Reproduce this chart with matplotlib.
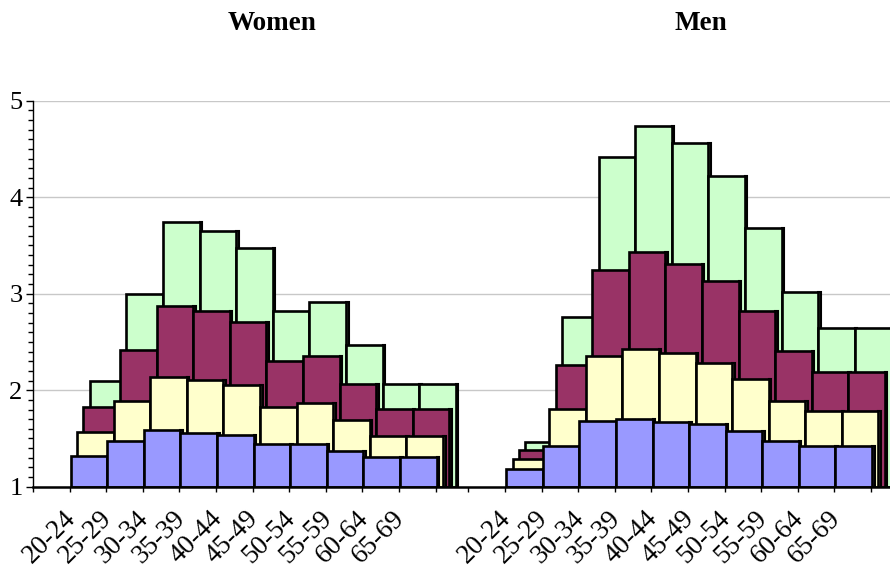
import matplotlib
matplotlib.use("Agg")
import matplotlib.pyplot as plt
from matplotlib.ticker import MultipleLocator

# --- data ---
ages = ['20-24', '25-29', '30-34', '35-39', '40-44',
        '45-49', '50-54', '55-59', '60-64', '65-69']

# front to back: blue, yellow, maroon, green
women_blue = [1.32, 1.47, 1.59, 1.56, 1.54, 1.44, 1.44, 1.37, 1.31, 1.31]
women_yellow = [1.57, 1.89, 2.14, 2.11, 2.05, 1.83, 1.87, 1.69, 1.53, 1.53]
women_maroon = [1.83, 2.42, 2.87, 2.82, 2.71, 2.30, 2.35, 2.06, 1.81, 1.81]
women_green = [2.10, 3.00, 3.74, 3.65, 3.47, 2.82, 2.91, 2.47, 2.06, 2.06]

men_blue = [1.18, 1.42, 1.68, 1.70, 1.67, 1.65, 1.58, 1.47, 1.42, 1.42]
men_yellow = [1.29, 1.81, 2.35, 2.43, 2.39, 2.28, 2.12, 1.89, 1.78, 1.78]
men_maroon = [1.38, 2.26, 3.25, 3.43, 3.31, 3.13, 2.82, 2.41, 2.19, 2.19]
men_green = [1.46, 2.76, 4.42, 4.74, 4.56, 4.22, 3.68, 3.02, 2.64, 2.64]

face_colors = ['#9999ff', '#ffffcc', '#993366', '#ccffcc']
side_colors = ['#4d4d80', '#808066', '#3d1429', '#5c7a5c']

plt.rcParams['font.family'] = ['Liberation Serif', 'DejaVu Serif']

fig = plt.figure(figsize=(8.9, 5.72), dpi=100)
ax = fig.add_axes([33 / 890, 85.3 / 572, 1 - 33 / 890, 386 / 572])

depth = 0.175   # shift of each series further back
side = 0.07     # width of the dark side face


def draw_group(x0, series):
    # draw back series first so the front ones cover them
    for k in range(len(series) - 1, -1, -1):
        vals = series[k]
        shift = 0.03 + k * depth
        for i, v in enumerate(vals):
            left = x0 + 1 + i + shift
            ax.bar(left + 1, v - 1, width=side, bottom=1, align='edge',
                   color=side_colors[k], edgecolor='black', linewidth=1.5)
            ax.bar(left, v - 1, width=1, bottom=1, align='edge',
                   color=face_colors[k], edgecolor='black', linewidth=1.9)


women_x0 = 0.0
men_x0 = 11.9
draw_group(women_x0, [women_blue, women_yellow, women_maroon, women_green])
draw_group(men_x0, [men_blue, men_yellow, men_maroon, men_green])

ax.set_xlim(0, 23.42)
ax.set_ylim(1, 5)

ticks = [women_x0 + k for k in range(12)] + [men_x0 + k for k in range(12)]
ax.set_xticks(ticks)
ax.set_xticklabels([])
ax.tick_params(axis='x', direction='out', length=3.5, width=1, color='black')

ax.set_yticks([1, 2, 3, 4, 5])
ax.yaxis.set_minor_locator(MultipleLocator(0.1))
ax.tick_params(axis='y', which='major', direction='out', length=5, width=1,
               labelsize=19, pad=2.5)
ax.tick_params(axis='y', which='minor', direction='out', length=3.5, width=1)

for x0 in (women_x0, men_x0):
    for i, lab in enumerate(ages):
        ax.text(x0 + 1 + i + 0.3, -0.05, lab, transform=ax.get_xaxis_transform(),
                rotation=45, ha='right', va='top', fontsize=19.5)

ax.grid(axis='y', which='major', color='#c8c8c8', linewidth=1)
ax.set_axisbelow(True)
for s in ('top', 'right'):
    ax.spines[s].set_visible(False)
ax.spines['left'].set_linewidth(1)
ax.spines['bottom'].set_linewidth(1.8)

fig.text(271.7 / 890, 1 - 30 / 572, 'Women', ha='center', va='baseline',
         fontsize=19.5, fontweight='bold')
fig.text(701 / 890, 1 - 30 / 572, 'Men', ha='center', va='baseline',
         fontsize=19.5, fontweight='bold')

fig.savefig('out.png', dpi=100)
